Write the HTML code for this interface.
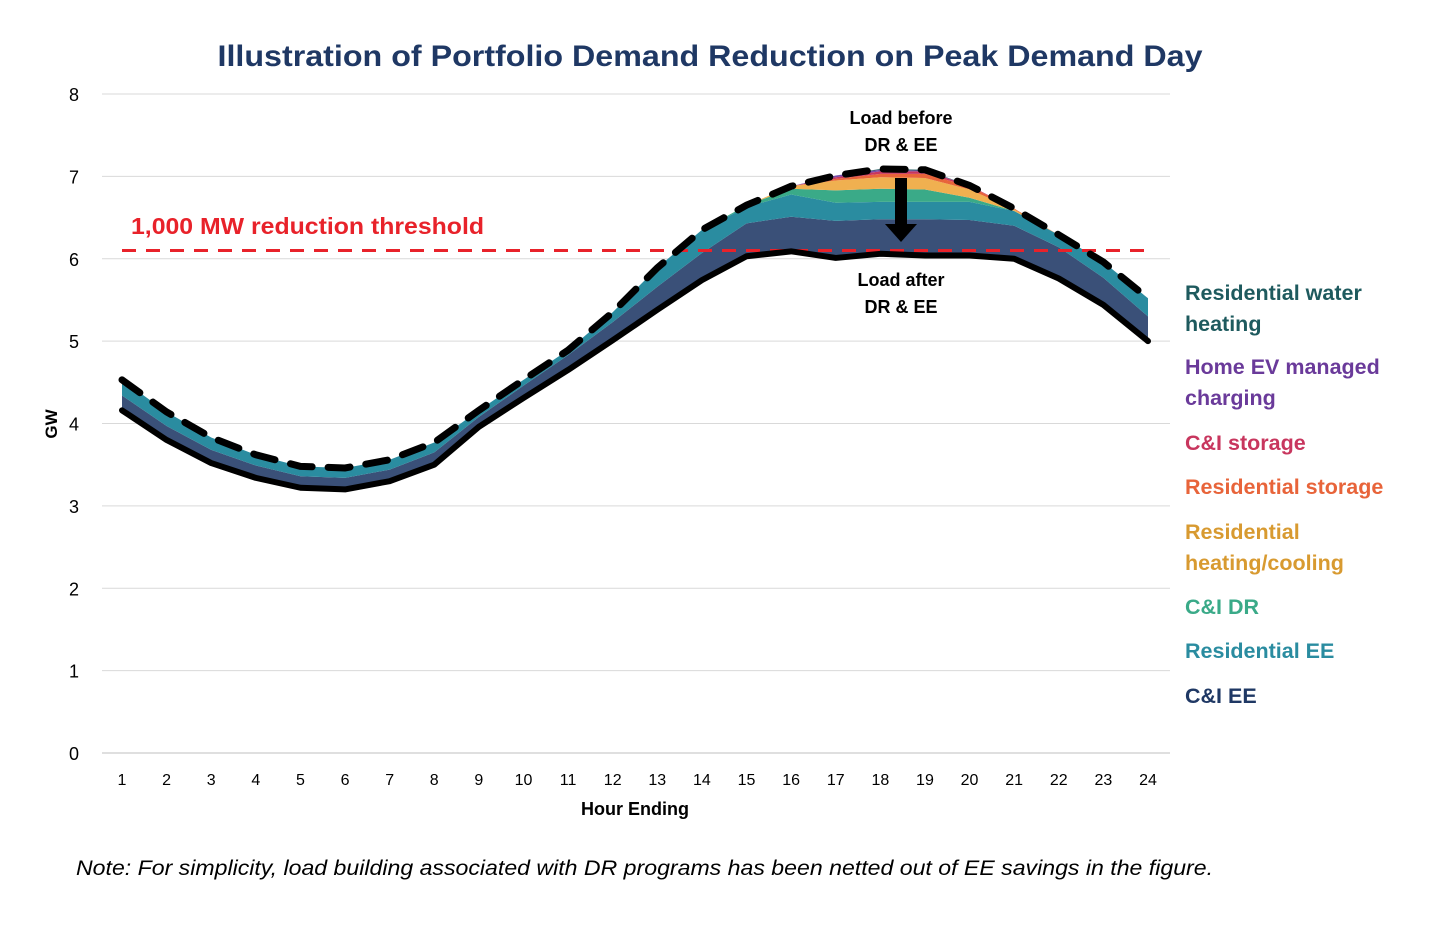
<!DOCTYPE html>
<html><head><meta charset="utf-8">
<style>
body{margin:0;background:#fff;}
svg{display:block;font-family:"Liberation Sans",sans-serif;}
</style></head>
<body>
<svg id="chart" width="1454" height="936" viewBox="0 0 1454 936" xmlns="http://www.w3.org/2000/svg">
<text x="710" y="66" text-anchor="middle" font-size="30" font-weight="bold" fill="#1f3864" textLength="985" lengthAdjust="spacingAndGlyphs">Illustration of Portfolio Demand Reduction on Peak Demand Day</text>
<g id="grid"></g>
<g id="areas"></g>
<g id="lines"></g>
<g id="axes"></g>
<text transform="translate(57,424) rotate(-90)" text-anchor="middle" font-size="17" font-weight="bold" fill="#000">GW</text>
<text x="635" y="815" text-anchor="middle" font-size="18" font-weight="bold" fill="#000">Hour Ending</text>
<text x="131" y="234" font-size="23" font-weight="bold" fill="#e8222a" textLength="353" lengthAdjust="spacingAndGlyphs">1,000 MW reduction threshold</text>
<text x="901" y="124" text-anchor="middle" font-size="18" font-weight="bold">Load before</text>
<text x="901" y="151" text-anchor="middle" font-size="18" font-weight="bold">DR &amp; EE</text>
<text x="901" y="286" text-anchor="middle" font-size="18" font-weight="bold">Load after</text>
<text x="901" y="313" text-anchor="middle" font-size="18" font-weight="bold">DR &amp; EE</text>
<g>
<rect x="895" y="178" width="12" height="48" fill="#000"/>
<polygon points="885,224 917,224 901,242" fill="#000"/>
</g>
<g font-size="21.5" font-weight="bold">
<text x="1185" y="300" fill="#1e5a5e">Residential water</text>
<text x="1185" y="331" fill="#1e5a5e">heating</text>
<text x="1185" y="374" fill="#6a3a9a">Home EV managed</text>
<text x="1185" y="405" fill="#6a3a9a">charging</text>
<text x="1185" y="450" fill="#c8365e">C&amp;I storage</text>
<text x="1185" y="494" fill="#e8643a">Residential storage</text>
<text x="1185" y="539" fill="#d89a30">Residential</text>
<text x="1185" y="570" fill="#d89a30">heating/cooling</text>
<text x="1185" y="614" fill="#3aaa88">C&amp;I DR</text>
<text x="1185" y="658" fill="#2a8ca0">Residential EE</text>
<text x="1185" y="703" fill="#1f3864">C&amp;I EE</text>
</g>
<text x="76" y="875" font-size="21" font-style="italic" fill="#000" textLength="1137" lengthAdjust="spacingAndGlyphs">Note: For simplicity, load building associated with DR programs has been netted out of EE savings in the figure.</text>
</svg>
<script>
const hours=[1,2,3,4,5,6,7,8,9,10,11,12,13,14,15,16,17,18,19,20,21,22,23,24];
const yTicks=[0,1,2,3,4,5,6,7,8];
const loadAfter=[4.16,3.80,3.52,3.34,3.22,3.20,3.30,3.50,3.96,4.31,4.65,5.01,5.38,5.74,6.03,6.09,6.01,6.06,6.04,6.04,6.00,5.76,5.44,5.00];
const ciEE=[0.18,0.17,0.16,0.15,0.14,0.14,0.14,0.15,0.12,0.15,0.18,0.22,0.28,0.33,0.40,0.42,0.45,0.42,0.44,0.43,0.40,0.38,0.33,0.30];
const resEE=[0.19,0.17,0.15,0.13,0.12,0.12,0.12,0.12,0.08,0.07,0.06,0.12,0.23,0.28,0.20,0.27,0.22,0.21,0.21,0.22,0.18,0.15,0.19,0.22];
const ciDR=[0,0,0,0,0,0,0,0,0,0,0,0,0,0,0.02,0.07,0.15,0.16,0.15,0.05,0,0,0,0];
const resHeatCool=[0,0,0,0,0,0,0,0,0,0,0,0,0,0,0,0.03,0.12,0.14,0.14,0.10,0.02,0,0,0];
const resStorage=[0,0,0,0,0,0,0,0,0,0,0,0,0,0,0,0,0.02,0.04,0.05,0.04,0.01,0,0,0];
const ciStorage=[0,0,0,0,0,0,0,0,0,0,0,0,0,0,0,0,0.02,0.03,0.03,0.01,0,0,0,0];
const homeEV=[0,0,0,0,0,0,0,0,0,0,0,0,0,0,0,0,0.02,0.02,0.01,0,0,0,0,0];
const resWater=[0,0,0,0,0,0,0,0,0,0,0,0,0,0,0,0,0,0.01,0.01,0,0,0,0,0];
const threshold=[6.1];

const NS="http://www.w3.org/2000/svg";
const X=h=>122+(h-1)*(1148-122)/23;
const Y=v=>753-v*(753-94)/8;
function mk(tag,attrs,parent){const e=document.createElementNS(NS,tag);for(const k in attrs)e.setAttribute(k,attrs[k]);parent.appendChild(e);return e;}
const grid=document.getElementById('grid'),areas=document.getElementById('areas'),lines=document.getElementById('lines'),axes=document.getElementById('axes');
yTicks.forEach(t=>{
  const l=mk('line',{x1:102,x2:1170,y1:Y(t),y2:Y(t),stroke:t===0?'#bfbfbf':'#d9d9d9','stroke-width':1},grid);
  
  
  const tx=mk('text',{x:79,y:Y(t)+7,'text-anchor':'end','font-size':18},axes);
  tx.textContent=t;
  
  
});
hours.forEach(h=>{
  const tx=mk('text',{x:X(h),y:785,'text-anchor':'middle','font-size':16},axes);
  tx.textContent=h;
  
  
});
const layers=[
 ['ci-ee',ciEE,'#3a5078'],['residential-ee',resEE,'#2a8ca0'],['ci-dr',ciDR,'#3aaa88'],
 ['residential-heating-cooling',resHeatCool,'#f0b050'],['residential-storage',resStorage,'#e8643a'],
 ['ci-storage',ciStorage,'#c8365e'],['home-ev',homeEV,'#7a4aa8'],['residential-water-heating',resWater,'#1e5a5e']];
let base=loadAfter.slice();
layers.forEach(([name,vals,col])=>{
  const top=base.map((b,i)=>b+vals[i]);
  let d='M'+hours.map((h,i)=>X(h)+','+Y(top[i])).join('L');
  d+='L'+hours.slice().reverse().map((h,j)=>{const i=hours.length-1-j;return X(h)+','+Y(base[i]);}).join('L')+'Z';
  const p=mk('path',{d:d,fill:col},areas);
  
  
  base=top;
});
const loadBefore=base;
const th=mk('line',{x1:122,x2:1150,y1:Y(threshold[0]),y2:Y(threshold[0]),stroke:'#e8222a','stroke-width':3,'stroke-dasharray':'14 10'},lines);


const la=mk('path',{d:'M'+hours.map((h,i)=>X(h)+','+Y(loadAfter[i])).join('L'),fill:'none',stroke:'#000','stroke-width':6,'stroke-linejoin':'round','stroke-linecap':'round'},lines);


const lb=mk('path',{d:'M'+hours.map((h,i)=>X(h)+','+Y(loadBefore[i])).join('L'),fill:'none',stroke:'#000','stroke-width':7,'stroke-dasharray':'22 16','stroke-linecap':'round'},lines);


</script>
</body></html>
